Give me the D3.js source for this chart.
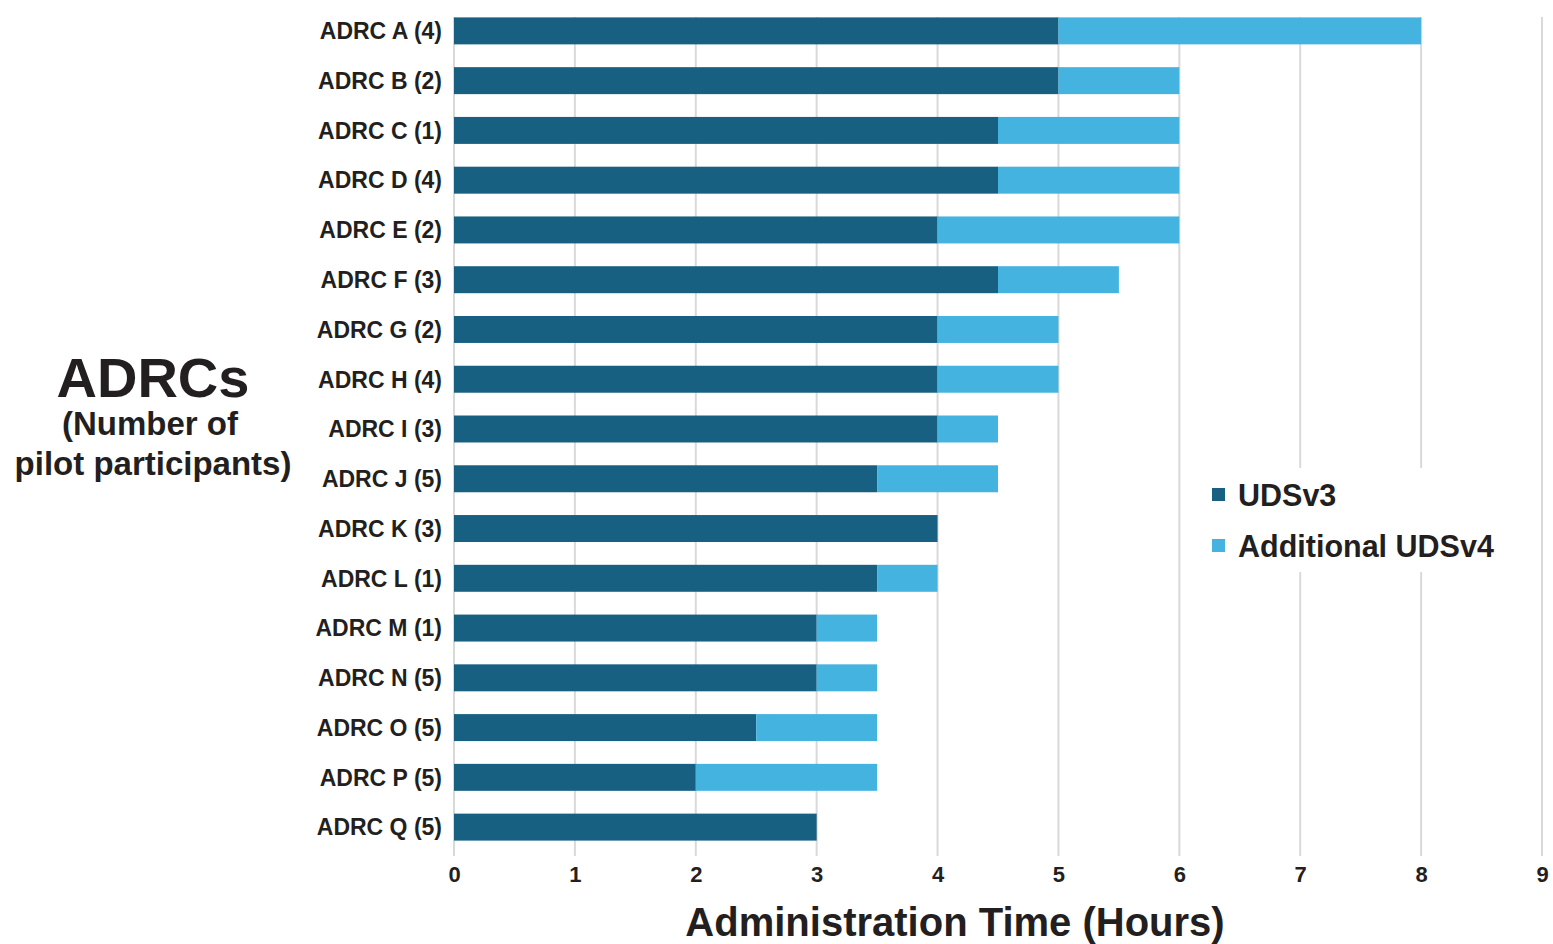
<!DOCTYPE html>
<meta charset="utf-8">
<style>
  body { margin: 0; background: #fff; }
  text { font-family: "Liberation Sans", Arial, sans-serif; font-weight: bold; fill: #231f20; }
</style>
<svg></svg>
<script src="https://cdn.jsdelivr.net/npm/d3@7"></script>
<script>

var categories = ['ADRC A (4)', 'ADRC B (2)', 'ADRC C (1)', 'ADRC D (4)', 'ADRC E (2)', 'ADRC F (3)',
                  'ADRC G (2)', 'ADRC H (4)', 'ADRC I (3)', 'ADRC J (5)', 'ADRC K (3)', 'ADRC L (1)',
                  'ADRC M (1)', 'ADRC N (5)', 'ADRC O (5)', 'ADRC P (5)', 'ADRC Q (5)']
var udsv3      = [5, 5, 4.5, 4.5, 4, 4.5, 4, 4, 4, 3.5, 4, 3.5, 3, 3, 2.5, 2, 3]
var additional = [3, 1, 1.5, 1.5, 2, 1, 1, 1, 0.5, 1, 0, 0.5, 0.5, 0.5, 1, 1.5, 0]
var xTicks = [0, 1, 2, 3, 4, 5, 6, 7, 8, 9]
var seriesNames = ['UDSv3', 'Additional UDSv4']
var colors = ['#176082', '#45b3e0']

var width = 1553, height = 944

var svg = d3.select('svg')
            .attr('width', width)
            .attr('height', height)

var x = d3.scaleLinear().domain([0, 9]).range([454, 1542])
var y = d3.scaleBand().domain(categories).range([6, 852]).paddingInner(0.458).paddingOuter(0.229)

var rows = categories.map((c, i) => ({cat: c, UDSv3: udsv3[i], add: additional[i]}))
var stacked = d3.stack().keys(['UDSv3', 'add'])(rows)

// gridlines
svg.append('g')
   .selectAll('line')
   .data(xTicks)
   .enter()
   .append('line')
   .attr('x1', d => x(d)).attr('x2', d => x(d))
   .attr('y1', 17).attr('y2', 856)
   .attr('stroke', '#d9d9d9')
   .attr('stroke-width', 2)

// legend background hides the grid behind it
svg.append('rect')
   .attr('x', 1200).attr('y', 468)
   .attr('width', 310).attr('height', 104)
   .attr('fill', '#fff')

// bars
svg.append('g')
   .selectAll('g')
   .data(stacked)
   .enter()
   .append('g')
   .attr('fill', (d, i) => colors[i])
   .selectAll('rect')
   .data(d => d)
   .enter()
   .append('rect')
   .attr('x', d => x(d[0]))
   .attr('y', d => y(d.data.cat))
   .attr('width', d => x(d[1]) - x(d[0]))
   .attr('height', y.bandwidth())

// y labels
var ay = svg.append('g')
            .attr('transform', 'translate(454,0)')
            .call(d3.axisLeft(y).tickSize(0).tickPadding(12))
ay.select('.domain').remove()
ay.selectAll('text').style('font-size', '23px').attr('dy', '0.36em')

// x tick labels
var ax = svg.append('g')
            .attr('transform', 'translate(0,857)')
            .call(d3.axisBottom(x).tickValues(xTicks).tickSize(0).tickPadding(8))
ax.select('.domain').remove()
ax.selectAll('text').style('font-size', '22px').attr('dy', '0.75em')

// axis titles
svg.append('text')
   .attr('x', 955).attr('y', 936)
   .attr('text-anchor', 'middle')
   .style('font-size', '40px')
   .text('Administration Time (Hours)')

svg.append('text')
   .attr('x', 153).attr('y', 397)
   .attr('text-anchor', 'middle')
   .style('font-size', '56px')
   .text('ADRCs')
svg.append('text')
   .attr('x', 150).attr('y', 435)
   .attr('text-anchor', 'middle')
   .style('font-size', '33px')
   .text('(Number of')
svg.append('text')
   .attr('x', 153).attr('y', 475)
   .attr('text-anchor', 'middle')
   .style('font-size', '33px')
   .text('pilot participants)')

// legend
var lg = svg.append('g')
            .selectAll('g')
            .data(seriesNames)
            .enter()
            .append('g')
            .attr('transform', (d, i) => 'translate(1212,' + (488 + i * 51) + ')')
lg.append('rect')
  .attr('width', 13).attr('height', 13)
  .attr('fill', (d, i) => colors[i])
lg.append('text')
  .attr('x', 26).attr('y', 7)
  .attr('dy', '0.36em')
  .style('font-size', '30.5px')
  .text(d => d)

</script>
